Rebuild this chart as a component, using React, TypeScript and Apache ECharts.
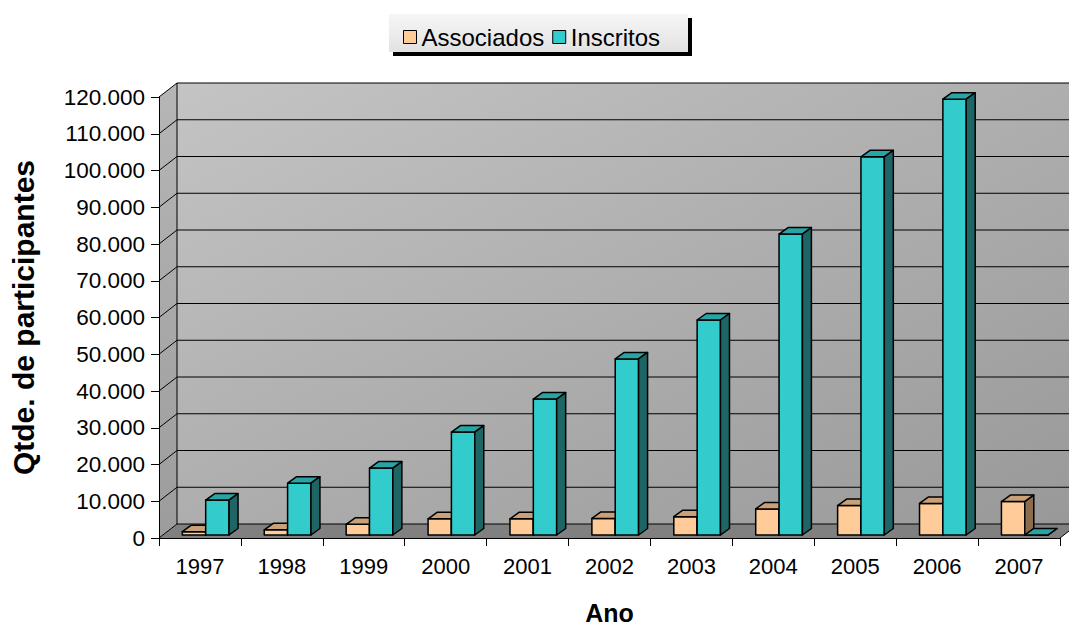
import React, { useEffect, useRef } from "react";
import * as echarts from "echarts";

const CATEGORIES = ["1997", "1998", "1999", "2000", "2001", "2002", "2003", "2004", "2005", "2006", "2007"];
const ASSOCIADOS = [900, 1400, 2900, 4400, 4400, 4500, 5000, 7100, 8000, 8600, 9100];
const INSCRITOS = [9500, 14100, 18200, 28000, 37000, 47900, 58500, 81900, 102900, 118600, 0];
const Y_TICKS = [0, 10000, 20000, 30000, 40000, 50000, 60000, 70000, 80000, 90000, 100000, 110000, 120000];
const SERIES_NAMES = ["Associados", "Inscritos"];

const DX = 18;
const DY = -14;
const BDX = 9;
const BDY = -6.5;

const COLORS = [
  { front: "#FFCC99", top: "#C9A077", side: "#8C6C4C" },
  { front: "#33CCCC", top: "#29A3A3", side: "#1E6666" },
];

const fmt = (v: number) => String(v).replace(/\B(?=(\d{3})+(?!\d))/g, ".");

export default function App() {
  const ref = useRef<HTMLDivElement>(null);
  useEffect(() => {
    document.body.style.margin = "0";
    const chart = echarts.init(ref.current!, null, { renderer: "svg" });

    const frameItem = (params: any, api: any) => {
      const cs = params.coordSys;
      const x0 = cs.x, x1 = cs.x + cs.width, yT = cs.y, yB = cs.y + cs.height;
      const children: any[] = [
        {
          type: "polygon",
          shape: { points: [[x0 + DX, yT + DY], [x1 + DX + 20, yT + DY], [x1 + DX + 20, yB + DY], [x0 + DX, yB + DY]] },
          style: {
            fill: new echarts.graphic.LinearGradient(0, 0, 1, 1, [
              { offset: 0, color: "#c4c4c4" },
              { offset: 1, color: "#989898" },
            ]),
          },
        },
        {
          type: "polygon",
          shape: { points: [[x0, yB], [x0, yT], [x0 + DX, yT + DY], [x0 + DX, yB + DY]] },
          style: {
            fill: new echarts.graphic.LinearGradient(0, 0, 0, 1, [
              { offset: 0, color: "#b6b6b6" },
              { offset: 1, color: "#9c9c9c" },
            ]),
          },
        },
        {
          type: "polygon",
          shape: { points: [[x0, yB], [x1, yB], [x1 + DX, yB + DY], [x0 + DX, yB + DY]] },
          style: { fill: "#808080" },
        },
      ];
      Y_TICKS.forEach((t) => {
        const y = api.coord([0, t])[1];
        children.push({
          type: "polyline",
          shape: { points: [[x0, y], [x0 + DX, y + DY], [x1 + DX + 20, y + DY]] },
          style: { stroke: "#000", lineWidth: 1, fill: null },
        });
      });
      children.push({
        type: "line",
        shape: { x1: x0 + DX, y1: yT + DY, x2: x0 + DX, y2: yB + DY },
        style: { stroke: "#000", lineWidth: 1 },
      });
      children.push({
        type: "line",
        shape: { x1: x1, y1: yB, x2: x1 + DX, y2: yB + DY },
        style: { stroke: "#000", lineWidth: 1 },
      });
      return { type: "group", children };
    };

    const barItem = (s: number) => (params: any, api: any) => {
      const idx = api.value(0);
      const val = api.value(1);
      const p0 = api.coord([idx, 0]);
      const p1 = api.coord([idx, val]);
      const bw = api.size([1, 0])[0];
      const w = bw * 0.285;
      const l = p0[0] - bw / 2 + bw * (0.285 + s * 0.285);
      const yb = p0[1] - 3;
      const yt = p1[1] - 3;
      const c = COLORS[s];
      const st = (fill: string) => ({ fill, stroke: "#000", lineWidth: 1.5, lineJoin: "round" });
      return {
        type: "group",
        children: [
          { type: "polygon", shape: { points: [[l, yb], [l + w, yb], [l + w, yt], [l, yt]] }, style: st(c.front) },
          { type: "polygon", shape: { points: [[l, yt], [l + w, yt], [l + w + BDX, yt + BDY], [l + BDX, yt + BDY]] }, style: st(c.top) },
          { type: "polygon", shape: { points: [[l + w, yb], [l + w + BDX, yb + BDY], [l + w + BDX, yt + BDY], [l + w, yt]] }, style: st(c.side) },
        ],
      };
    };

    const font = "'Liberation Sans', Arial, sans-serif";

    chart.setOption({
      animation: false,
      textStyle: { fontFamily: font },
      grid: { left: 159, right: 9, top: 97, bottom: 90, containLabel: false, outerBoundsMode: "none" },
      legend: {
        left: 398,
        top: 20,
        itemWidth: 13,
        itemHeight: 13,
        itemGap: 8,
        icon: "rect",
        textStyle: { fontSize: 24, color: "#000", fontFamily: font },
        data: SERIES_NAMES.map((n, i) => ({
          name: n,
          itemStyle: { color: COLORS[i].front, borderColor: "#000", borderWidth: 1 },
        })),
        z: 10,
      },
      graphic: [
        { type: "rect", shape: { x: 393, y: 18, width: 299, height: 38 }, style: { fill: "#000" }, z: 5 },
        {
          type: "rect",
          shape: { x: 389, y: 14, width: 299, height: 38 },
          style: {
            fill: new echarts.graphic.LinearGradient(0, 0, 0, 1, [
              { offset: 0, color: "#f6f6f6" },
              { offset: 1, color: "#e2e2e2" },
            ]),
          },
          z: 6,
        },
      ],
      xAxis: {
        type: "category",
        data: CATEGORIES,
        z: 5,
        name: "Ano",
        nameLocation: "middle",
        nameGap: 62,
        nameTextStyle: { fontSize: 25, fontWeight: "bold", color: "#000", fontFamily: font },
        axisLine: { show: true, lineStyle: { color: "#000", width: 1 } },
        axisTick: { show: true, length: 8, interval: 0, lineStyle: { color: "#000" } },
        axisLabel: { fontSize: 22, color: "#000", margin: 17, interval: 0, fontFamily: font },
        splitLine: { show: false },
      },
      yAxis: {
        type: "value",
        min: 0,
        max: 120000,
        interval: 10000,
        z: 5,
        name: "Qtde. de participantes",
        nameLocation: "middle",
        nameGap: 121,
        nameTextStyle: { fontSize: 30, fontWeight: "bold", color: "#000", fontFamily: font },
        axisLine: { show: true, lineStyle: { color: "#000", width: 1 } },
        axisTick: { show: true, length: 8, lineStyle: { color: "#000" } },
        axisLabel: { fontSize: 22.5, color: "#000", margin: 14, formatter: (v: number) => fmt(v), fontFamily: font },
        splitLine: { show: false },
      },
      series: [
        {
          type: "custom",
          name: "frame",
          silent: true,
          clip: false,
          z: 1,
          data: [[0, 0]],
          renderItem: frameItem,
        },
        ...SERIES_NAMES.map((n, s) => ({
          type: "custom",
          name: n,
          clip: false,
          z: 2 + s,
          itemStyle: { color: COLORS[s].front, borderColor: "#000", borderWidth: 1 },
          encode: { x: 0, y: 1 },
          data: (s === 0 ? ASSOCIADOS : INSCRITOS).map((v, i) => [i, v]),
          renderItem: barItem(s),
        })),
      ],
    });
    return () => chart.dispose();
  }, []);
  return <div ref={ref} style={{ width: 1069, height: 628 }} />;
}
